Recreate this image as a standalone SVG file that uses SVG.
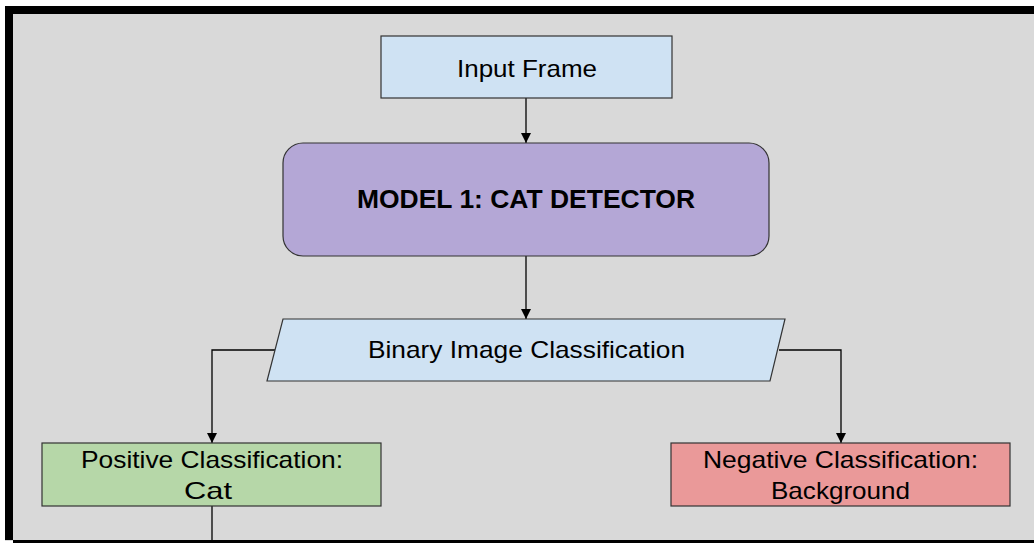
<svg xmlns="http://www.w3.org/2000/svg" width="1034" height="543" viewBox="0 0 1034 543">
  <defs>
    <marker id="arrow" markerUnits="userSpaceOnUse" markerWidth="10" markerHeight="12" refX="10" refY="5" orient="auto">
      <path d="M0,0 L10,5 L0,10 Z" fill="#000"/>
    </marker>
    <style>
      .box { stroke: #333; stroke-width: 1.2; }
      .lbl { font-family: "Liberation Sans", Arial, sans-serif; font-size: 24px; fill: #000; text-anchor: middle; }
      .bold { font-weight: bold; font-size: 25px; }
      .conn { fill: none; stroke: #000; stroke-width: 1.3; }
    </style>
  </defs>
  <rect x="0" y="0" width="1034" height="543" fill="#ffffff"/>
  <rect x="5" y="6" width="1029" height="535" fill="#d9d9d9"/>
  <rect x="5" y="6" width="1029" height="8" fill="#000"/>
  <rect x="5" y="6" width="8" height="534" fill="#000"/>
  <rect x="13" y="540" width="1021" height="3" fill="#000"/>

  <g id="connectors">
    <line class="conn" x1="526" y1="98" x2="526" y2="143" marker-end="url(#arrow)"/>
    <line class="conn" x1="526" y1="256" x2="526" y2="319" marker-end="url(#arrow)"/>
    <polyline class="conn" points="275,350 212,350 212,443" marker-end="url(#arrow)"/>
    <polyline class="conn" points="779,350 841,350 841,443" marker-end="url(#arrow)"/>
    <line class="conn" x1="212" y1="506" x2="212" y2="540"/>
  </g>

  <g id="input-frame">
    <rect class="box" x="381" y="36" width="291" height="62" fill="#cfe2f3"/>
    <text class="lbl" x="527" y="77" textLength="140" lengthAdjust="spacingAndGlyphs">Input Frame</text>
  </g>

  <g id="model-1">
    <rect class="box" x="283" y="143" width="486" height="113" rx="20" ry="20" fill="#b4a7d6"/>
    <text class="lbl bold" x="526" y="208" textLength="338" lengthAdjust="spacingAndGlyphs">MODEL 1: CAT DETECTOR</text>
  </g>

  <g id="binary-classification">
    <polygon class="box" points="283,319 785,319 770,381 267,381" fill="#cfe2f3"/>
    <text class="lbl" x="526.5" y="358" textLength="317" lengthAdjust="spacingAndGlyphs">Binary Image Classification</text>
  </g>

  <g id="positive">
    <rect class="box" x="42" y="443" width="339" height="63" fill="#b6d7a8"/>
    <text class="lbl" x="212" y="468" textLength="262" lengthAdjust="spacingAndGlyphs">Positive Classification:</text>
    <text class="lbl" x="208" y="499" textLength="48" lengthAdjust="spacingAndGlyphs">Cat</text>
  </g>

  <g id="negative">
    <rect class="box" x="671" y="443" width="339" height="63" fill="#ea9999"/>
    <text class="lbl" x="840.5" y="468" textLength="275" lengthAdjust="spacingAndGlyphs">Negative Classification:</text>
    <text class="lbl" x="840.5" y="499" textLength="139" lengthAdjust="spacingAndGlyphs">Background</text>
  </g>
</svg>
